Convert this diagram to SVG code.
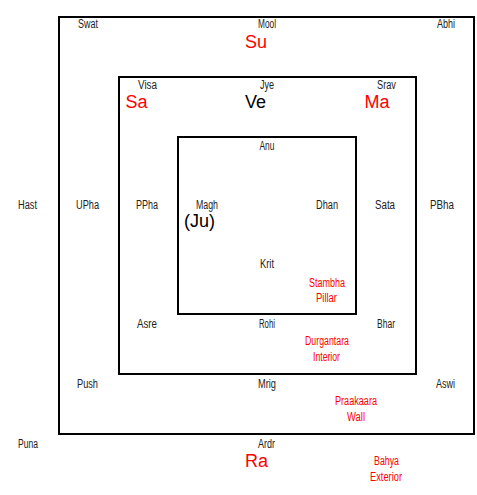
<svg xmlns="http://www.w3.org/2000/svg" width="477" height="495" viewBox="0 0 477 495">
<style>
rect.box{fill:none;stroke:#000;stroke-width:2}
text{font-family:"Liberation Sans",Arial,sans-serif;text-anchor:middle}
.s{font-size:12px;fill:#222}
.r{font-size:12px;fill:#f00}
.b{font-size:18px;fill:#000}
.br{font-size:18px;fill:#f00}
</style>
<rect width="477" height="495" fill="#fff"/>
<g id="outer">
<rect class="box" x="59" y="17" width="415" height="417"/>
</g>
<g id="middle">
<rect class="box" x="119" y="77" width="297" height="297"/>
</g>
<g id="inner">
<rect class="box" x="178" y="137" width="178" height="177"/>
</g>
<g id="connectors"/>
<g id="labels">
<text class="s" x="88" y="28" textLength="20" lengthAdjust="spacingAndGlyphs">Swat</text>
<text class="s" x="267" y="28" textLength="18" lengthAdjust="spacingAndGlyphs">Mool</text>
<text class="s" x="446" y="28" textLength="18" lengthAdjust="spacingAndGlyphs">Abhi</text>
<text class="br" x="256" y="48">Su</text>
<text class="s" x="147.5" y="89" textLength="19" lengthAdjust="spacingAndGlyphs">Visa</text>
<text class="s" x="267" y="89" textLength="14" lengthAdjust="spacingAndGlyphs">Jye</text>
<text class="s" x="386.5" y="89" textLength="19" lengthAdjust="spacingAndGlyphs">Srav</text>
<text class="br" x="136.5" y="108">Sa</text>
<text class="b" x="255.5" y="108">Ve</text>
<text class="br" x="377" y="108">Ma</text>
<text class="s" x="267" y="150" textLength="15" lengthAdjust="spacingAndGlyphs">Anu</text>
<text class="s" x="27.5" y="209" textLength="19" lengthAdjust="spacingAndGlyphs">Hast</text>
<text class="s" x="87.5" y="209" textLength="23" lengthAdjust="spacingAndGlyphs">UPha</text>
<text class="s" x="147" y="209" textLength="22" lengthAdjust="spacingAndGlyphs">PPha</text>
<text class="s" x="207" y="209" textLength="22" lengthAdjust="spacingAndGlyphs">Magh</text>
<text class="s" x="327" y="209" textLength="22" lengthAdjust="spacingAndGlyphs">Dhan</text>
<text class="s" x="385" y="209" textLength="20" lengthAdjust="spacingAndGlyphs">Sata</text>
<text class="s" x="442" y="209" textLength="24" lengthAdjust="spacingAndGlyphs">PBha</text>
<text class="b" x="199.5" y="227">(Ju)</text>
<text class="s" x="267" y="268" textLength="14" lengthAdjust="spacingAndGlyphs">Krit</text>
<text class="r" x="327" y="287" textLength="36" lengthAdjust="spacingAndGlyphs">Stambha</text>
<text class="r" x="326.5" y="302" textLength="21" lengthAdjust="spacingAndGlyphs">Pillar</text>
<text class="s" x="147" y="328" textLength="20" lengthAdjust="spacingAndGlyphs">Asre</text>
<text class="s" x="267" y="328" textLength="16" lengthAdjust="spacingAndGlyphs">Rohi</text>
<text class="s" x="386" y="328" textLength="18" lengthAdjust="spacingAndGlyphs">Bhar</text>
<text class="r" x="327" y="345" textLength="44" lengthAdjust="spacingAndGlyphs">Durgantara</text>
<text class="r" x="326.5" y="361" textLength="27" lengthAdjust="spacingAndGlyphs">Interior</text>
<text class="s" x="87.5" y="388" textLength="21" lengthAdjust="spacingAndGlyphs">Push</text>
<text class="s" x="267" y="388" textLength="18" lengthAdjust="spacingAndGlyphs">Mrig</text>
<text class="s" x="445.5" y="388" textLength="19" lengthAdjust="spacingAndGlyphs">Aswi</text>
<text class="r" x="356" y="405" textLength="42" lengthAdjust="spacingAndGlyphs">Praakaara</text>
<text class="r" x="356" y="421" textLength="18" lengthAdjust="spacingAndGlyphs">Wall</text>
<text class="s" x="28" y="448" textLength="20" lengthAdjust="spacingAndGlyphs">Puna</text>
<text class="s" x="266.5" y="448" textLength="17" lengthAdjust="spacingAndGlyphs">Ardr</text>
<text class="br" x="256.5" y="467">Ra</text>
<text class="r" x="386.5" y="465" textLength="25" lengthAdjust="spacingAndGlyphs">Bahya</text>
<text class="r" x="386" y="481" textLength="32" lengthAdjust="spacingAndGlyphs">Exterior</text>
</g>
</svg>
